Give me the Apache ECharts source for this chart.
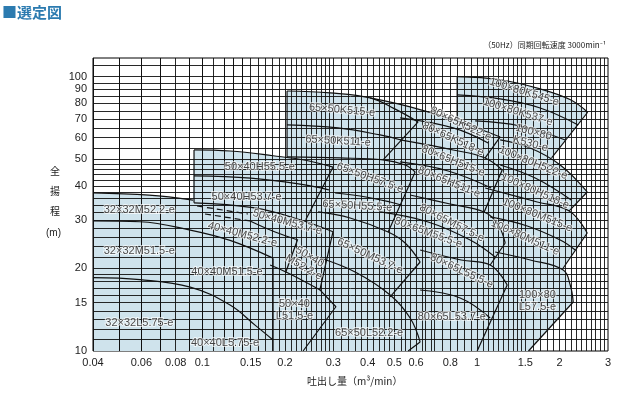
<!DOCTYPE html>
<html><head><meta charset="utf-8">
<script src="https://cdn.jsdelivr.net/npm/echarts@6/dist/echarts.min.js"></script>
<style>html,body{margin:0;padding:0;background:#fff}#c{width:637px;height:394px}</style>
</head><body><div id="c"></div>
<script>
const xTickLabels = [0.04,0.06,0.08,0.1,0.15,0.2,0.3,0.4,0.5,0.6,0.8,1,1.5,2,3];
const yTickLabels = [10,15,20,30,40,50,60,70,80,90,100];
const xGridMult = [1,1.05,1.1,1.15,1.2,1.25,1.3,1.35,1.4,1.45,1.5,1.6,1.7,1.8,1.9,2,2.1,2.2,2.3,2.4,2.5,2.6,2.7,2.8,2.9,3,3.2,3.4,3.6,3.8,4,4.2,4.4,4.6,4.8,5,5.25,5.5,5.75,6,6.25,6.5,6.75,7,7.5,8,8.5,9,9.5];
const yGrid = [11,12,13,14,15,16,17,18,19,20,22,24,26,28,30,32,34,36,38,40,42,44,46,48,50,55,60,65,70,75,80,85,90,95,100,110];

// shaded selection area (union of all pump ranges)
const fillAreas = [
 [[0.04,37.7],[0.064,37.0],[0.0925,35.5],[0.0933,54.1],[0.1262,53.6],[0.181,51.5],[0.2035,50.7],[0.2035,88.7],[0.292,87.3],[0.4083,83.66],[0.5711,77.58],[0.847,68.97],[0.847,100],[1.214,97.5],[1.698,90.3],[2.19,82.4],[2.53,74.2],[1.87,50.6],[2.0097,47.67],[2.52,38.0],[2.167,32.4],[2.52,26.93],[2.0609,20.07],[2.1855,17.4],[2.2412,15.09],[1.54,10],[0.04,10]]
];
// head-capacity curves
const curves = [
 // 32x32 / 40x40
 [[0.04,37.7],[0.064,37.0],[0.0925,35.5]],
 [[0.04,29.8],[0.0593,29.6],[0.0904,27.6],[0.1262,25.3],[0.181,21.8]],
 [[0.04,18.5],[0.0593,18.2],[0.0904,17.1],[0.1262,14.7],[0.156,12.4],[0.181,10.97]],
 [[0.1492,29.79],[0.1841,27.16],[0.2232,25.39]],
 // 50x40
 [[0.0933,54.1],[0.1262,53.6],[0.181,51.5],[0.24,49.5],[0.299,46.8]],
 [[0.0933,43.5],[0.150,42.7],[0.227,40.6],[0.289,38.7]],
 [[0.0933,34.7],[0.153,33.3],[0.227,30.1],[0.299,27.2]],
 [[0.1765,20.59],[0.2052,19.25],[0.2685,16.69]],
 // 65x50
 [[0.2035,88.7],[0.292,87.3],[0.4083,83.66],[0.5,76.5],[0.6107,68.4]],
 [[0.2035,66.7],[0.3122,65.04],[0.4441,61.32],[0.5295,58.8]],
 [[0.2035,50.99],[0.3175,50.56],[0.4554,49.71],[0.5476,47.67],[0.5955,44.95]],
 [[0.3045,37.68],[0.3754,36.74],[0.4829,34.94],[0.5295,34.06]],
 [[0.2640,32.13],[0.3453,30.55],[0.4749,27.16],[0.5476,24.76],[0.6211,21.11]],
 [[0.2685,21.83],[0.3601,19.41],[0.4829,16.00],[0.5711,13.19],[0.6211,10.79]],
 // 80x65
 [[0.4083,83.66],[0.5711,77.58],[0.847,68.97],[1.215,60.31]],
 [[0.5252,70.73],[0.8191,65.04],[1.0987,57.34]],
 [[0.5252,58.8],[0.8191,54.06],[1.0713,50.56],[1.2355,45.71]],
 [[0.5252,48.89],[0.7855,45.33],[1.1267,39.30]],
 [[0.5711,37.05],[0.7987,34.35],[1.0624,32.13],[1.1948,28.80],[1.2670,24.76]],
 [[0.4441,32.13],[0.6642,29.54],[0.9446,25.39],[1.165,22.02]],
 [[0.6211,23.35],[0.876,21.47],[1.1172,20.59],[1.2885,17.40]],
 [[0.6211,16.69],[0.8687,15.61],[1.1172,13.19]],
 // 100x80
 [[0.847,100],[1.214,97.5],[1.698,90.3],[2.19,82.4],[2.53,74.2]],
 [[0.847,85.8],[1.215,82.97],[1.699,76.9],[2.337,66.7]],
 [[0.985,68.97],[1.437,66.1],[2.096,58.8]],
 [[1.215,58.8],[1.5626,54.98],[2.0097,47.67],[2.5207,38.0]],
 [[1.215,47.67],[1.6295,42.73],[2.204,35.53]],
 [[1.0713,39.30],[1.6572,34.94],[2.167,32.40],[2.5207,26.93]],
 [[1.1172,30.81],[1.5239,28.56],[2.0097,25.39],[2.279,23.35]],
 [[1.165,22.96],[1.5626,21.47],[2.0609,19.73],[2.1855,17.40],[2.2412,15.09]]
];
// straight range boundaries
const edges = [
 [[0.181,21.8],[0.181,10]],
 [[0.0933,54.1],[0.0933,34.7]],
 [[0.299,46.8],[0.238,30.1]],
 [[0.299,27.2],[0.268,16.7],[0.3065,14.5],[0.2328,10]],
 [[0.222,25.4],[0.201,19.3]],
 [[0.2035,88.7],[0.2035,50.7]],
 [[0.6107,68.4],[0.4554,49.71]],
 [[0.5955,44.95],[0.4749,27.16]],
 [[0.6211,21.11],[0.4829,15.74]],
 [[0.6211,10.79],[0.5616,10]],
 [[1.215,60.31],[1.0713,50.56]],
 [[1.2355,45.71],[1.0624,32.13]],
 [[1.2670,24.76],[1.1172,20.59]],
 [[1.2885,17.40],[1.0018,10]],
 [[0.847,100],[0.847,68.97]],
 [[2.53,74.2],[1.87,50.6]],
 [[2.5207,38.0],[2.167,32.4]],
 [[2.5207,26.93],[2.0609,20.07]],
 [[2.2412,15.09],[1.54,10]]
];
const dashed = [
 [[0.0957,33.78],[0.1467,31.59]],
 [[0.1023,31.59],[0.1492,29.79]]
];
const pumpLabels = [
 ['65×50K515-e',0.3228,75.6,-5],['65×50K511-e',0.312,58.3,-3],
 ['80×65K522-e',0.873,67.4,-25],['80×65K518-e',0.819,59.3,-25],
 ['80×65H515-e',0.819,49.3,-22],['80×65H511-e',0.792,41.3,-22],
 ['100×80K545-e',1.486,88.0,-17],['100×80K537-e',1.41,74.4,-17],
 ['100×80\nK530-e',1.587,59.8,-15],['100×80H522-e',1.602,48.5,-22],
 ['100×80H518-e',1.63,38.3,-24],['100×80M515-e',1.66,31.3,-22],
 ['100×80M511-e',1.50,25.9,-24],['100×80\nL57.5-e',1.66,15.2,0],
 ['80×65M57.5-e',0.81,29.3,-27],['80×65M55.5-e',0.665,27.0,-20],
 ['80×65L55.5-e',0.88,19.6,-25],['80×65L53.7-e',0.81,13.3,0],
 ['65×50H57.5-e',0.408,42.8,-20],['65×50H55.5-e',0.367,33.8,-3],
 ['65×50M53.7-e',0.408,22.2,-25],['65×50L52.2-e',0.405,11.6,0],
 ['50×40H55.5-e',0.162,46.9,0],['50×40H53.7-e',0.145,36.5,0],
 ['50×40M53.7-e',0.204,29.5,-15],['40×40M52.2-e',0.140,26.6,-15],
 ['50×40\nM52.2-e',0.240,21.1,-30],['40×40M51.5-e',0.123,19.4,0],
 ['50×40\nL51.5-e',0.2165,14.1,0],['40×40L5.75-e',0.121,10.7,0],
 ['32×32M52.2-e',0.059,32.7,0],['32×32M51.5-e',0.059,23.2,0],
 ['32×32L5.75-e',0.059,12.65,0]
];

const xGrid = [];
[0.01,0.1,1].forEach(d => xGridMult.forEach(m => { const v = +(m*d).toPrecision(6); if (v > 0.04 && v < 3) xGrid.push(v); }));

const chart = echarts.init(document.getElementById('c'), null, {renderer:'canvas'});
const FONT = 'Liberation Sans, Arial, sans-serif';
const series = [];
series.push({
  type:'custom', coordinateSystem:'cartesian2d', z:1, silent:true,
  data: fillAreas.map((_,i)=>[i]),
  renderItem:(params, api) => {
    const pts = fillAreas[params.dataIndex].map(p => api.coord(p));
    return {type:'polygon', shape:{points:pts}, style:{fill:'#cfe3ec', stroke:null}};
  }
});
series.push({
  type:'line', data:[], z:2, silent:true,
  markLine:{silent:true, symbol:'none', label:{show:false}, animation:false,
    data: xGrid.map(v=>({xAxis:v, lineStyle:{color:'#111', width:1, type:'solid', opacity:0.9}}))
      .concat(yGrid.map(v=>({yAxis:v, lineStyle:{color:'#111', width:1, type:'solid', opacity:0.9}})))}
});
curves.forEach(c => series.push({type:'line', data:c, smooth:0.4, showSymbol:false, z:3, silent:true, lineStyle:{color:'#111', width:1.2}}));
edges.forEach(c => series.push({type:'line', data:c, showSymbol:false, z:3, silent:true, lineStyle:{color:'#111', width:1.2}}));
dashed.forEach(c => series.push({type:'line', data:c, showSymbol:false, z:3, silent:true, lineStyle:{color:'#111', width:1.2, type:[6,4]}}));
series.push({type:'scatter', z:5, silent:true, symbolSize:0,
  data: pumpLabels.map(l=>({value:[l[1],l[2]], name:l[0], label:{rotate:l[3]}})),
  label:{show:true, position:'inside', formatter:p=>p.name, fontFamily:FONT, fontSize:11, color:'#1a1a1a', lineHeight:12,
    textBorderColor:'rgba(255,255,255,0.85)', textBorderWidth:2}
});

chart.setOption({
  animation:false,
  grid:{left:93, right:29, top:58, bottom:43, show:true, borderColor:'#000', borderWidth:1, backgroundColor:'transparent'},
  xAxis:{type:'log', logBase:10, min:0.04, max:3,
    axisLine:{show:false}, axisTick:{show:false}, splitLine:{show:false}, minorSplitLine:{show:false},
    axisLabel:{customValues:xTickLabels, formatter:v=>String(+v.toPrecision(3)), fontFamily:FONT, fontSize:11, color:'#222', margin:6}},
  yAxis:{type:'log', logBase:10, min:10, max:117,
    axisLine:{show:false}, axisTick:{show:false}, splitLine:{show:false},
    axisLabel:{customValues:yTickLabels, formatter:v=>String(Math.round(v)), fontFamily:FONT, fontSize:11, color:'#222', margin:6}},
  graphic:[
    {type:'text', left:2, top:5, style:{text:'■選定図', font:'bold 15px "Noto Sans CJK JP"', fill:'#2c7bb0'}},
    {type:'text', right:31, top:41, style:{text:'（50Hz）同期回転速度 3000min⁻¹', font:'8px "Noto Sans CJK JP"', fill:'#222'}},
    {type:'text', left:50, top:166, style:{text:'全', font:'10px "Noto Sans CJK JP"', fill:'#222'}},
    {type:'text', left:50, top:186, style:{text:'揚', font:'10px "Noto Sans CJK JP"', fill:'#222'}},
    {type:'text', left:50, top:206, style:{text:'程', font:'10px "Noto Sans CJK JP"', fill:'#222'}},
    {type:'text', left:46, top:228, style:{text:'(m)', font:'10px '+FONT, fill:'#222'}},
    {type:'text', left:307, top:376, style:{text:'吐出し量（m³/min）', font:'10px "Noto Sans CJK JP"', fill:'#222'}}
  ],
  series
});
</script></body></html>
